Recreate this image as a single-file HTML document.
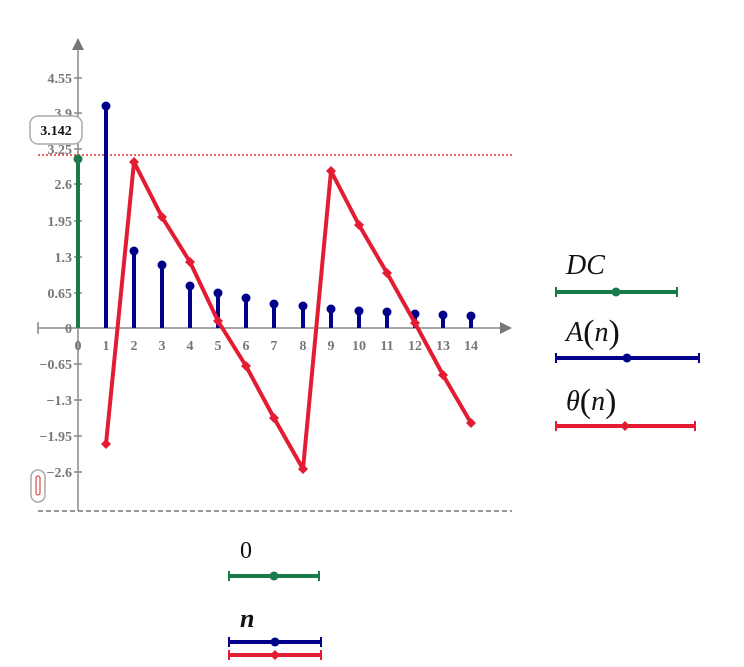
<!DOCTYPE html>
<html><head><meta charset="utf-8"><style>
html,body{margin:0;padding:0;background:#fff;width:744px;height:667px;overflow:hidden}
text{font-family:"Liberation Serif",serif}
</style></head><body>
<svg width="744" height="667" viewBox="0 0 744 667" xmlns="http://www.w3.org/2000/svg">
<defs>
<path id="dm" d="M0,-5 L5,0 L0,5 L-5,0Z" fill="#e31c33"/>
</defs>
<line x1="78" y1="46" x2="78" y2="511" stroke="#888" stroke-width="1.5"/>
<path d="M72,50 L78,38 L84,50Z" fill="#777"/>
<line x1="38" y1="328" x2="504" y2="328" stroke="#888" stroke-width="1.5"/>
<path d="M500,322 L512,328 L500,334Z" fill="#777"/>
<line x1="38" y1="322" x2="38" y2="334" stroke="#888" stroke-width="1.5"/>
<line x1="38" y1="511" x2="512" y2="511" stroke="#777" stroke-width="1.5" stroke-dasharray="5,3"/>
<line x1="38" y1="155" x2="512" y2="155" stroke="#d33" stroke-width="1.5" stroke-dasharray="2,2"/>
<g stroke="#888" stroke-width="1.5">
<line x1="74" y1="78" x2="82" y2="78"/><line x1="74" y1="113" x2="82" y2="113"/><line x1="74" y1="149" x2="82" y2="149"/><line x1="74" y1="184" x2="82" y2="184"/><line x1="74" y1="221" x2="82" y2="221"/><line x1="74" y1="257" x2="82" y2="257"/><line x1="74" y1="293" x2="82" y2="293"/><line x1="74" y1="364" x2="82" y2="364"/><line x1="74" y1="400" x2="82" y2="400"/><line x1="74" y1="436" x2="82" y2="436"/><line x1="74" y1="472" x2="82" y2="472"/>
</g>
<g fill="#777" font-size="14" font-weight="bold" text-anchor="end">
<text x="72" y="83">4.55</text><text x="72" y="118">3.9</text><text x="72" y="154">3.25</text><text x="72" y="189">2.6</text><text x="72" y="226">1.95</text><text x="72" y="262">1.3</text><text x="72" y="298">0.65</text><text x="72" y="333">0</text><text x="72" y="369">−0.65</text><text x="72" y="405">−1.3</text><text x="72" y="441">−1.95</text><text x="72" y="477">−2.6</text>
</g>
<g fill="#777" font-size="14" font-weight="bold" text-anchor="middle">
<text x="78" y="350">0</text><text x="106" y="350">1</text><text x="134" y="350">2</text><text x="162" y="350">3</text><text x="190" y="350">4</text><text x="218" y="350">5</text><text x="246" y="350">6</text><text x="274" y="350">7</text><text x="303" y="350">8</text><text x="331" y="350">9</text><text x="359" y="350">10</text><text x="387" y="350">11</text><text x="415" y="350">12</text><text x="443" y="350">13</text><text x="471" y="350">14</text>
</g>
<rect x="30" y="116" width="52" height="28" rx="8" fill="#fff" stroke="#aaa" stroke-width="1.5"/>
<text x="56" y="135" font-size="14" font-weight="bold" text-anchor="middle" fill="#111">3.142</text>
<rect x="31" y="470" width="14" height="32" rx="7" fill="#fff" stroke="#aaa" stroke-width="1.5"/>
<rect x="36" y="476" width="4" height="19" rx="2" fill="none" stroke="#d22" stroke-width="1"/>
<line x1="78" y1="328" x2="78" y2="159" stroke="#1a7a4c" stroke-width="4"/>
<circle cx="78" cy="159" r="4.5" fill="#1a7a4c"/>
<g stroke="#00008b" stroke-width="4">
<line x1="106" y1="328" x2="106" y2="106"/><line x1="134" y1="328" x2="134" y2="251"/><line x1="162" y1="328" x2="162" y2="265"/><line x1="190" y1="328" x2="190" y2="286"/><line x1="218" y1="328" x2="218" y2="293"/><line x1="246" y1="328" x2="246" y2="298"/><line x1="274" y1="328" x2="274" y2="304"/><line x1="303" y1="328" x2="303" y2="306"/><line x1="331" y1="328" x2="331" y2="309"/><line x1="359" y1="328" x2="359" y2="311"/><line x1="387" y1="328" x2="387" y2="312"/><line x1="415" y1="328" x2="415" y2="314"/><line x1="443" y1="328" x2="443" y2="315"/><line x1="471" y1="328" x2="471" y2="316"/>
</g>
<g fill="#00008b">
<circle cx="106" cy="106" r="4.5"/><circle cx="134" cy="251" r="4.5"/><circle cx="162" cy="265" r="4.5"/><circle cx="190" cy="286" r="4.5"/><circle cx="218" cy="293" r="4.5"/><circle cx="246" cy="298" r="4.5"/><circle cx="274" cy="304" r="4.5"/><circle cx="303" cy="306" r="4.5"/><circle cx="331" cy="309" r="4.5"/><circle cx="359" cy="311" r="4.5"/><circle cx="387" cy="312" r="4.5"/><circle cx="415" cy="314" r="4.5"/><circle cx="443" cy="315" r="4.5"/><circle cx="471" cy="316" r="4.5"/>
</g>
<polyline points="106,444 134,162 162,217 190,262 218,321 246,366 274,418 303,469 331,171 359,225 387,273 415,323 443,375 471,423" fill="none" stroke="#e31c33" stroke-width="4" stroke-linejoin="round"/>
<g>
<use href="#dm" x="106" y="444"/><use href="#dm" x="134" y="162"/><use href="#dm" x="162" y="217"/><use href="#dm" x="190" y="262"/><use href="#dm" x="218" y="321"/><use href="#dm" x="246" y="366"/><use href="#dm" x="274" y="418"/><use href="#dm" x="303" y="469"/><use href="#dm" x="331" y="171"/><use href="#dm" x="359" y="225"/><use href="#dm" x="387" y="273"/><use href="#dm" x="415" y="323"/><use href="#dm" x="443" y="375"/><use href="#dm" x="471" y="423"/>
</g>
<g font-size="28" font-style="italic" fill="#111">
<text x="566" y="274">DC</text>
<text x="566" y="341">A<tspan font-style="normal" font-size="34" dy="2">(</tspan><tspan dy="-2">n</tspan><tspan font-style="normal" font-size="34" dy="2">)</tspan></text>
<text x="566" y="410">θ<tspan font-style="normal" font-size="34" dy="2">(</tspan><tspan dy="-2">n</tspan><tspan font-style="normal" font-size="34" dy="2">)</tspan></text>
<text x="240" y="558" font-style="normal" font-size="24">0</text>
<text x="240" y="627" font-weight="bold" font-size="26">n</text>
</g>
<g stroke-width="4">
<line x1="557" y1="292" x2="676" y2="292" stroke="#1a7a4c"/>
<line x1="557" y1="358" x2="698" y2="358" stroke="#00008b"/>
<line x1="557" y1="426" x2="694" y2="426" stroke="#e31c33"/>
<line x1="230" y1="576" x2="318" y2="576" stroke="#1a7a4c"/>
<line x1="230" y1="642" x2="320" y2="642" stroke="#00008b"/>
<line x1="230" y1="655" x2="320" y2="655" stroke="#e31c33"/>
</g>
<g stroke-width="2">
<line x1="556" y1="287" x2="556" y2="297" stroke="#1a7a4c"/><line x1="677" y1="287" x2="677" y2="297" stroke="#1a7a4c"/>
<line x1="556" y1="353" x2="556" y2="363" stroke="#00008b"/><line x1="699" y1="353" x2="699" y2="363" stroke="#00008b"/>
<line x1="556" y1="421" x2="556" y2="431" stroke="#e31c33"/><line x1="695" y1="421" x2="695" y2="431" stroke="#e31c33"/>
<line x1="229" y1="571" x2="229" y2="581" stroke="#1a7a4c"/><line x1="319" y1="571" x2="319" y2="581" stroke="#1a7a4c"/>
<line x1="229" y1="637" x2="229" y2="647" stroke="#00008b"/><line x1="321" y1="637" x2="321" y2="647" stroke="#00008b"/>
<line x1="229" y1="650" x2="229" y2="660" stroke="#e31c33"/><line x1="321" y1="650" x2="321" y2="660" stroke="#e31c33"/>
</g>
<circle cx="616" cy="292" r="4.5" fill="#1a7a4c"/>
<circle cx="627" cy="358" r="4.5" fill="#00008b"/>
<use href="#dm" x="625" y="426"/>
<circle cx="274" cy="576" r="4.5" fill="#1a7a4c"/>
<circle cx="275" cy="642" r="4.5" fill="#00008b"/>
<use href="#dm" x="275" y="655"/>
</svg>
</body></html>
